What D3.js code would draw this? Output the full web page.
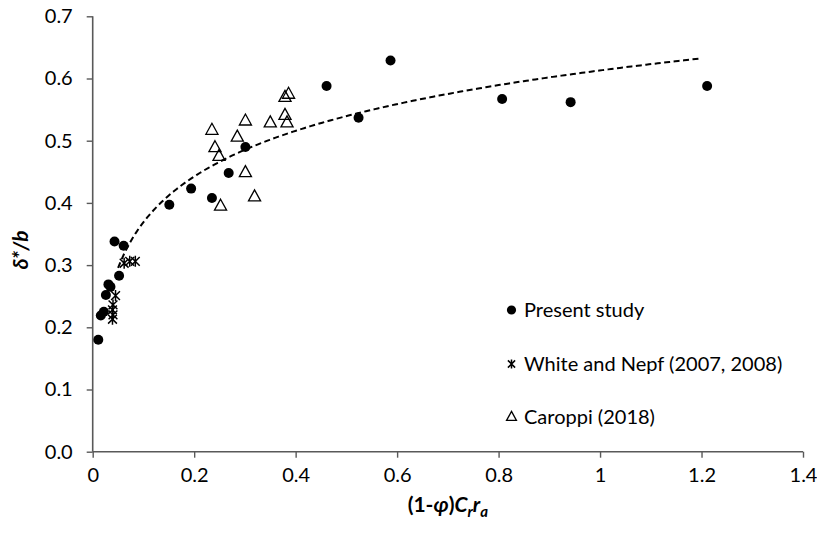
<!DOCTYPE html>
<html>
<head>
<meta charset="utf-8">
<script src="https://cdn.jsdelivr.net/npm/d3@7"></script>
<style>
  html, body { margin: 0; padding: 0; background: #fff; }
  svg { display: block; font-family: Lato, "Open Sans", sans-serif; }
</style>
</head>
<body>
<svg id="chart" width="817" height="533"></svg>
<script>
// Present study: x = (1-φ)C_r r_a, y = δ*/b
const presentX = [0.011, 0.016, 0.022, 0.026, 0.031, 0.035, 0.052, 0.043, 0.061,
                  0.151, 0.194, 0.235, 0.268, 0.301, 0.461, 0.524, 0.587, 0.807, 0.942, 1.211];
const presentY = [0.180, 0.219, 0.225, 0.252, 0.269, 0.265, 0.283, 0.338, 0.331,
                  0.397, 0.423, 0.408, 0.448, 0.490, 0.588, 0.537, 0.629, 0.567, 0.562, 0.588];

// White and Nepf (2007, 2008)
const whiteX = [0.045, 0.040, 0.039, 0.040, 0.039, 0.062, 0.073, 0.084];
const whiteY = [0.251, 0.236, 0.228, 0.220, 0.213, 0.303, 0.306, 0.306];

// Caroppi (2018)
const caroppiX = [0.235, 0.241, 0.249, 0.252, 0.285, 0.301, 0.301, 0.319, 0.350, 0.379, 0.386, 0.379, 0.383];
const caroppiY = [0.517, 0.489, 0.475, 0.395, 0.506, 0.532, 0.449, 0.410, 0.529, 0.570, 0.575, 0.541, 0.529];

// Logarithmic trendline y = a·ln(x) + b over its plotted range
const trendSlope = 0.106;
const trendIntercept = 0.613;
const trendRange = [0.05, 1.2];

const xTicks = [0, 0.2, 0.4, 0.6, 0.8, 1, 1.2, 1.4];
const yTicks = [0, 0.1, 0.2, 0.3, 0.4, 0.5, 0.6, 0.7];

const legendLabels = ["Present study", "White and Nepf (2007, 2008)", "Caroppi (2018)"];

const svg = d3.select("#chart");
const margin = { left: 92.7, right: 14, top: 16.3, bottom: 81.3 };
const W = 817, H = 533;

const x = d3.scaleLinear().domain([0, 1.4]).range([margin.left, W - margin.right]);
const y = d3.scaleLinear().domain([0, 0.7]).range([H - margin.bottom, margin.top]);

const axisColor = "#595959";
const fontSize = 20;

// axes
const gx = svg.append("g")
  .attr("transform", `translate(0,${y(0)})`)
  .call(d3.axisBottom(x).tickValues(xTicks).tickSize(6).tickPadding(10)
        .tickFormat(d => d3.format("")(d)));
const gy = svg.append("g")
  .attr("transform", `translate(${x(0)},0)`)
  .call(d3.axisLeft(y).tickValues(yTicks).tickSize(6).tickPadding(14)
        .tickFormat(d3.format(".1f")));

[gx, gy].forEach(g => {
  g.select(".domain").attr("stroke", axisColor).attr("stroke-width", 1.6);
  g.selectAll(".tick line").attr("stroke", axisColor).attr("stroke-width", 1.4);
  g.selectAll(".tick text").attr("fill", "#000").attr("font-size", fontSize)
    .attr("font-family", "Lato, sans-serif");
});
gy.select(".domain").attr("d", `M0,${y(0.7)}V${y(0)}`);
gx.select(".domain").attr("d", `M${x(0)},0H${x(1.4)}`);

// trendline
const trendPts = d3.range(0, 201).map(i => {
  const xv = trendRange[0] + (trendRange[1] - trendRange[0]) * i / 200;
  return [xv, trendSlope * Math.log(xv) + trendIntercept];
});
svg.append("path")
  .datum(trendPts)
  .attr("fill", "none")
  .attr("stroke", "#000")
  .attr("stroke-width", 2)
  .attr("stroke-dasharray", "6,3.5")
  .attr("d", d3.line().x(d => x(d[0])).y(d => y(d[1])));

// marker shapes
const triPath = s => `M0,${-s * 0.62}L${s * 0.55},${s * 0.38}L${-s * 0.55},${s * 0.38}Z`;
// star marker: an X crossed by a vertical stroke
const starPath = s => {
  const r = s / 2;
  return `M0,${-r}V${r}M${-r * 0.8},${-r * 0.8}L${r * 0.8},${r * 0.8}M${r * 0.8},${-r * 0.8}L${-r * 0.8},${r * 0.8}`;
};

function drawCircle(g, cx, cy, r) {
  g.append("circle").attr("cx", cx).attr("cy", cy).attr("r", r).attr("fill", "#000");
}
function drawTri(g, cx, cy, s) {
  g.append("path").attr("transform", `translate(${cx},${cy})`).attr("d", triPath(s))
    .attr("fill", "none").attr("stroke", "#000").attr("stroke-width", 1.3);
}
function drawStar(g, cx, cy, s) {
  g.append("path").attr("transform", `translate(${cx},${cy})`).attr("d", starPath(s))
    .attr("fill", "none").attr("stroke", "#000").attr("stroke-width", 1.5);
}

const marks = svg.append("g");
caroppiX.forEach((xv, i) => drawTri(marks, x(xv), y(caroppiY[i]), 11));
whiteX.forEach((xv, i) => drawStar(marks, x(xv), y(whiteY[i]), 11));
presentX.forEach((xv, i) => drawCircle(marks, x(xv), y(presentY[i]), 5));

// legend
const legend = svg.append("g");
const legY = [310, 364, 417];
const legMarkX = 511.5, legTextX = 524;
drawCircle(legend, legMarkX, legY[0], 4.6);
drawStar(legend, legMarkX, legY[1], 9);
drawTri(legend, legMarkX, legY[2], 9);
legendLabels.forEach((t, i) => {
  legend.append("text").attr("x", legTextX).attr("y", legY[i]).attr("dy", "0.35em")
    .attr("font-size", fontSize).attr("fill", "#000").text(t);
});

// axis titles
const xt = svg.append("text").attr("x", x(0.7)).attr("y", 512)
  .attr("text-anchor", "middle").attr("font-size", 21).attr("font-weight", "bold").attr("fill", "#000");
xt.append("tspan").text("(1-");
xt.append("tspan").attr("font-style", "italic").text("φ");
xt.append("tspan").text(")");
xt.append("tspan").attr("font-style", "italic").text("C");
xt.append("tspan").attr("font-style", "italic").attr("font-size", 15).attr("dy", 5).text("r");
xt.append("tspan").attr("font-style", "italic").attr("dy", -5).text("r");
xt.append("tspan").attr("font-style", "italic").attr("font-size", 15).attr("dy", 5).text("a");

svg.append("text")
  .attr("transform", `translate(28,${(y(0) + y(0.7)) / 2 + 16}) rotate(-90)`)
  .attr("text-anchor", "middle").attr("font-size", 21).attr("font-weight", "bold")
  .attr("font-style", "italic").attr("fill", "#000").text("δ*/b");
</script>
</body>
</html>
